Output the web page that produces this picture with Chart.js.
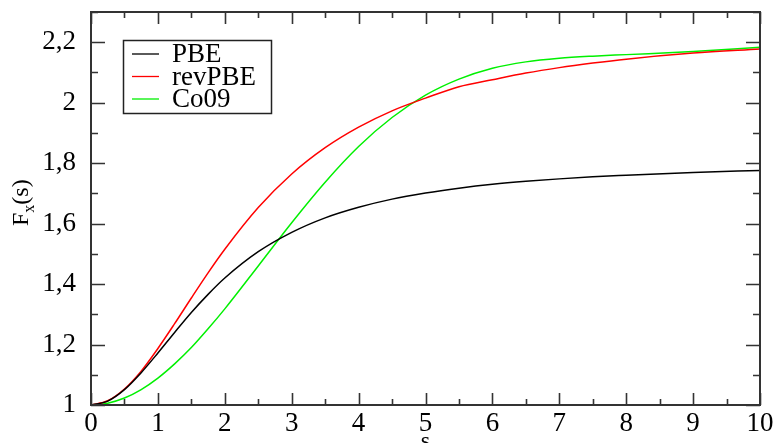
<!DOCTYPE html>
<html>
<head>
<meta charset="utf-8">
<script src="https://cdn.jsdelivr.net/npm/chart.js@4/dist/chart.umd.min.js"></script>
<style>
  html, body { margin: 0; padding: 0; background: #fff; }
  #wrap { width: 775px; height: 443px; }
</style>
</head>
<body>
<div id="wrap"><canvas id="fxChart"></canvas></div>
<script>
// values
const sValues = [0, 0.25, 0.5, 0.75, 1, 1.25, 1.5, 1.75, 2, 2.5, 3, 3.5, 4, 4.5, 5, 5.5, 6, 6.5, 7, 7.5, 8, 9, 10];
const pbe    = [1, 1.013, 1.051, 1.107, 1.172, 1.240, 1.306, 1.366, 1.420, 1.507, 1.571, 1.619, 1.654, 1.681, 1.701, 1.717, 1.730, 1.740, 1.748, 1.755, 1.760, 1.769, 1.776];
const revPbe = [1, 1.014, 1.053, 1.112, 1.187, 1.269, 1.354, 1.437, 1.515, 1.653, 1.764, 1.851, 1.919, 1.973, 2.015, 2.053, 2.076, 2.098, 2.116, 2.131, 2.144, 2.164, 2.178];
const co09   = [1, 1.006, 1.023, 1.051, 1.089, 1.136, 1.190, 1.252, 1.318, 1.460, 1.603, 1.737, 1.855, 1.951, 2.025, 2.078, 2.114, 2.135, 2.147, 2.154, 2.159, 2.169, 2.183];
const xTicks = [0, 1, 2, 3, 4, 5, 6, 7, 8, 9, 10];
const yTicks = [1, 1.2, 1.4, 1.6, 1.8, 2, 2.2];

const serif = "'Liberation Serif', serif";

function pts(ys) {
  return sValues.map((s, i) => ({ x: s, y: ys[i] }));
}

// frame, inward ticks, legend and axis titles
const decorations = {
  id: "decorations",
  afterDatasetsDraw(chart) {
    const ctx = chart.ctx;
    const a = chart.chartArea;
    const xs = chart.scales.x, ys = chart.scales.y;
    ctx.save();
    ctx.strokeStyle = "#333";
    ctx.lineWidth = 2;
    ctx.strokeRect(a.left, a.top, a.right - a.left, a.bottom - a.top);

    ctx.lineWidth = 1.6;
    ctx.beginPath();
    for (let v = 0; v <= 10.001; v += 0.5) {
      const px = Math.round(xs.getPixelForValue(v)) + 0.5;
      const len = Math.abs(v - Math.round(v)) < 0.01 ? 12 : 6;
      ctx.moveTo(px, a.bottom); ctx.lineTo(px, a.bottom - len);
      ctx.moveTo(px, a.top); ctx.lineTo(px, a.top + len);
    }
    for (let k = 0; k <= 13; k++) {
      const v = 1 + k * 0.1;
      const py = Math.round(ys.getPixelForValue(v)) + 0.5;
      const len = k % 2 === 0 ? 14 : 7;
      ctx.moveTo(a.left, py); ctx.lineTo(a.left + len, py);
      ctx.moveTo(a.right, py); ctx.lineTo(a.right - len, py);
    }
    ctx.stroke();

    // legend box
    const bx = 123, by = 40, bw = 148, bh = 73;
    ctx.fillStyle = "#fff";
    ctx.fillRect(bx, by, bw, bh);
    ctx.strokeStyle = "#222";
    ctx.lineWidth = 1.5;
    ctx.strokeRect(bx + 0.5, by + 0.5, bw, bh);
    ctx.font = "27px " + serif;
    ctx.textBaseline = "middle";
    ctx.textAlign = "left";
    chart.data.datasets.forEach((ds, i) => {
      const y = 54 + i * 22.5;
      ctx.strokeStyle = ds.borderColor;
      ctx.lineWidth = 1.3;
      ctx.beginPath();
      ctx.moveTo(132, y); ctx.lineTo(159, y);
      ctx.stroke();
      ctx.fillStyle = "#000";
      ctx.fillText(ds.label, 172, y + 1);
    });

    // y title F_x(s)
    ctx.save();
    ctx.translate(28, 226);
    ctx.rotate(-Math.PI / 2);
    ctx.fillStyle = "#000";
    ctx.textBaseline = "alphabetic";
    ctx.font = "24px " + serif;
    ctx.fillText("F", 0, 0);
    let w = ctx.measureText("F").width;
    ctx.font = "16px " + serif;
    ctx.fillText("x", w, 6);
    w += ctx.measureText("x").width;
    ctx.font = "24px " + serif;
    ctx.fillText("(s)", w, 0);
    ctx.restore();

    // x title s
    ctx.font = "24px " + serif;
    ctx.textAlign = "center";
    ctx.textBaseline = "top";
    ctx.fillText("s", xs.getPixelForValue(5), 430);
    ctx.restore();
  }
};

new Chart(document.getElementById("fxChart"), {
  type: "line",
  data: {
    datasets: [
      { label: "PBE", data: pts(pbe), borderColor: "#000000" },
      { label: "revPBE", data: pts(revPbe), borderColor: "#ff0000" },
      { label: "Co09", data: pts(co09), borderColor: "#00f000" }
    ]
  },
  options: {
    responsive: true,
    maintainAspectRatio: false,
    animation: false,
    devicePixelRatio: 1,
    layout: { padding: { left: 0, right: 15, top: 12, bottom: 0 } },
    elements: {
      point: { radius: 0 },
      line: { borderWidth: 1.5, cubicInterpolationMode: "monotone", fill: false }
    },
    plugins: {
      legend: { display: false },
      tooltip: { enabled: false }
    },
    scales: {
      x: {
        type: "linear",
        min: 0,
        max: 10,
        afterBuildTicks: (scale) => { scale.ticks = xTicks.map(v => ({ value: v })); },
        afterFit: (scale) => {
          scale.height = 38;
          scale.paddingLeft = 0;
          scale.paddingRight = 0;
        },
        grid: { display: false },
        border: { display: false },
        ticks: {
          padding: -5,
          color: "#000",
          font: { family: serif, size: 27 },
          maxRotation: 0
        }
      },
      y: {
        type: "linear",
        min: 1,
        max: 2.3,
        afterBuildTicks: (scale) => { scale.ticks = yTicks.map(v => ({ value: v })); },
        afterFit: (scale) => {
          scale.width = 91;
          scale.paddingTop = 0;
          scale.paddingBottom = 0;
        },
        grid: { display: false },
        border: { display: false },
        ticks: {
          padding: 7,
          color: "#000",
          font: { family: serif, size: 27 },
          callback: (v) => String(Math.round(v * 10) / 10).replace(".", ",")
        }
      }
    }
  },
  plugins: [decorations]
});
</script>
</body>
</html>
